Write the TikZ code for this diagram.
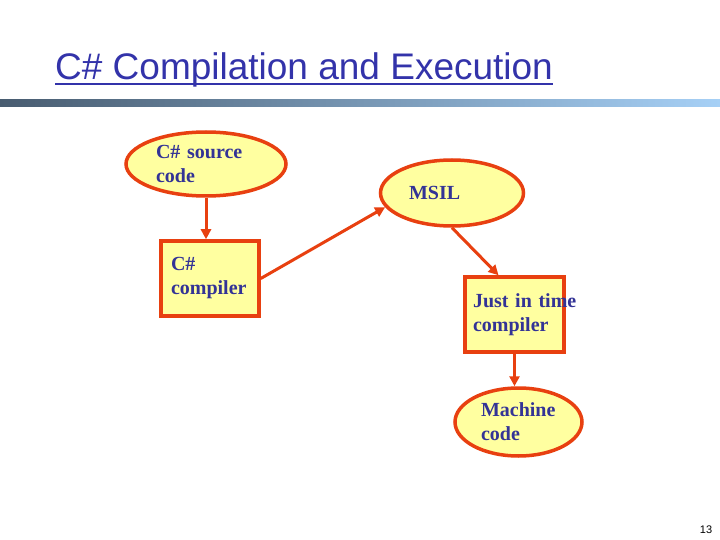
\documentclass[tikz,border=0pt]{standalone}
\usepackage{fontspec}
\setmainfont{Liberation Serif}
\setsansfont{Liberation Sans}
\usetikzlibrary{positioning, shapes.geometric, arrows.meta}

\definecolor{titleblue}{RGB}{51,51,170}
\definecolor{textnavy}{RGB}{51,51,150}
\definecolor{edgered}{RGB}{232,64,16}
\definecolor{paleyellow}{RGB}{255,255,160}
\definecolor{bardark}{RGB}{72,92,112}
\definecolor{barlight}{RGB}{166,208,246}

\tikzset{
  shapebase/.style={draw=edgered, line width=3.5pt, fill=paleyellow, text=textnavy,
    font=\fontsize{20}{24}\selectfont\bfseries, align=left, inner sep=0pt},
  ellnode/.style={shapebase, ellipse},
  boxnode/.style={shapebase, rectangle},
  flow/.style={draw=edgered, line width=3pt, -{Triangle[length=10pt,width=10pt]}}
}

\begin{document}
\begin{tikzpicture}[x=1pt, y=-1pt]
\useasboundingbox[fill=white] (0,0) rectangle (720,540);
% title and bar
\node[anchor=base west, inner sep=0pt, text=titleblue,
  font=\sffamily\fontsize{37}{40}\selectfont] (title) at (55,80) {C\# Compilation and Execution};
\draw[titleblue, line width=2.5pt] ([yshift=-4pt]title.base west) -- ([yshift=-4pt]title.base east);
\shade[left color=bardark, right color=barlight] (0,100) rectangle (720,107);
% nodes
\node[ellnode, minimum width=160pt, minimum height=64pt, text width=100pt] (src) at (206,164) {C\# source\\code};
\node[boxnode, minimum width=98pt, minimum height=75pt, text width=78pt] (csc) at (210,278.5) {C\#\\compiler};
\node[ellnode, minimum width=143pt, minimum height=66pt, text width=86pt] (msil) at (452,193) {MSIL};
\node[boxnode, minimum width=99pt, minimum height=75pt, text width=83pt] (jit) at (514.5,314.5) {\mbox{Just in time}\\compiler};
\node[ellnode, minimum width=127pt, minimum height=68pt, text width=75pt] (mach) at (518.5,422) {Machine\\code};
\node[font=\sffamily\fontsize{11}{13}\selectfont, inner sep=0pt] (pagenum) at (706,530) {13};
% arrows
\draw[flow] (src.south) -- (src.south |- csc.north);
\draw[flow] (csc.east) -- (msil.192);
\draw[flow] (msil.south) -- ([xshift=-16pt]jit.north);
\draw[flow] (jit.south) -- (jit.south |- mach.north);
\end{tikzpicture}
\end{document}
